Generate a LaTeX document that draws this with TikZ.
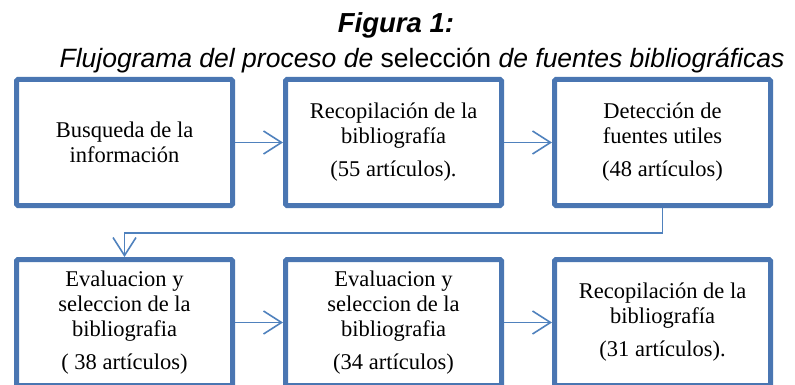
\documentclass[tikz,border=0pt]{standalone}
\usepackage{fontspec}
\setmainfont{Liberation Serif}
\newfontfamily\arialfont{Liberation Sans}
\usetikzlibrary{arrows.meta,positioning}
\definecolor{boxblue}{RGB}{74,118,178}
\definecolor{lineblue}{RGB}{79,129,189}

\begin{document}
\begin{tikzpicture}[x=1pt,y=-1pt,
		>={Straight Barb[length=18pt,width=23pt,line width=1.6pt]},
		step box/.style={rectangle,draw=boxblue,line width=5pt,rounded corners=1.5pt,
			minimum width=216pt,minimum height=126pt,align=center,
			font=\fontsize{22.5}{25}\selectfont},
		conn/.style={->,draw=lineblue,line width=1.6pt},
		title node/.style={anchor=base,font=\arialfont\bfseries\itshape\fontsize{27.5}{30}\selectfont},
		caption node/.style={anchor=base,font=\arialfont\itshape\fontsize{26.5}{30}\selectfont}]
	\useasboundingbox (0,0) rectangle (795,385);
	\clip (0,0) rectangle (795,385);
	\node[title node] (title) at (396,33) {Figura 1:};
	\node[caption node] (caption) at (422,68) {Flujograma del proceso de {\upshape selección} de fuentes bibliográficas};
	%
	% First row of boxes.
	\node[step box] (busqueda) at (124.5,142.5) {Busqueda de la\\información};
	\node[step box] (recop1) [right =48pt of busqueda] {Recopilación de la\\bibliografía\\[8pt](55 artículos).};
	\node[step box] (deteccion) [right =48pt of recop1] {Detección de\\fuentes utiles\\[8pt](48 artículos)};
	%
	% Second row of boxes.
	\node[step box] (eval1) [below =49pt of busqueda] {Evaluacion y\\seleccion de la\\bibliografia\\[8pt]( 38 artículos)};
	\node[step box] (eval2) [right =48pt of eval1] {Evaluacion y\\seleccion de la\\bibliografia\\[8pt](34 artículos)};
	\node[step box] (recop2) [right =48pt of eval2] {Recopilación de la\\bibliografía\\[8pt](31 artículos).};
	%
	% Arrows between the boxes.
	\draw[conn] (busqueda) -- (recop1);
	\draw[conn] (recop1) -- (deteccion);
	\draw[conn] (deteccion.south) -- ++(0,25) -| (eval1.north);
	\draw[conn] (eval1) -- (eval2);
	\draw[conn] (eval2) -- (recop2);
\end{tikzpicture}
\end{document}
